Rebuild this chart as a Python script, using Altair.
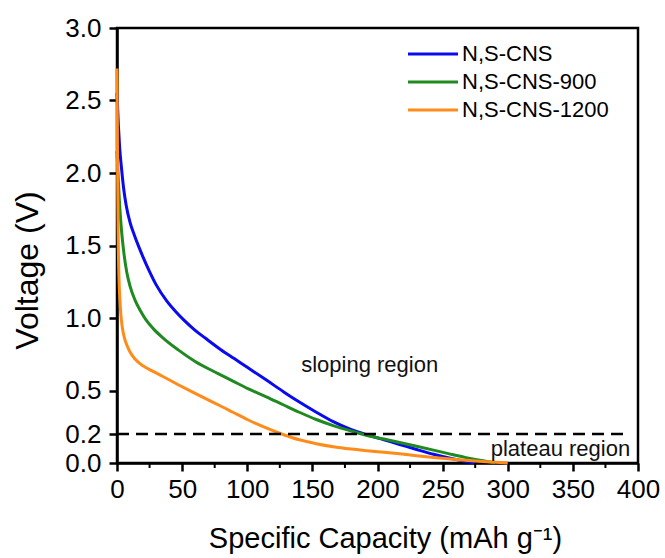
import altair as alt
import pandas as pd

# ---------------- data ----------------
series_names = ["N,S-CNS", "N,S-CNS-900", "N,S-CNS-1200"]
series_colors = ["#0A0AF0", "#1F8A1F", "#FF8C1A"]

cns_cap = [0, 1, 2, 3.5, 5, 7, 10, 13, 17, 20, 25, 30, 38, 45, 52, 60, 68, 80,
           90, 100, 115, 128, 140, 153, 166, 180, 192, 205, 217, 230, 243, 255,
           265, 275]
cns_v = [2.55, 2.34, 2.18, 2.03, 1.90, 1.78, 1.66, 1.58, 1.485, 1.42, 1.32, 1.23,
         1.12, 1.045, 0.98, 0.915, 0.86, 0.78, 0.72, 0.66, 0.57, 0.49, 0.42,
         0.35, 0.285, 0.23, 0.195, 0.16, 0.128, 0.093, 0.06, 0.034, 0.016, 0.0]

cns900_cap = [0, 1, 2, 3.5, 5, 7.4, 10, 14, 18, 22, 28, 35, 47, 60, 78, 89, 100,
              115, 128, 140, 153, 166, 180, 192, 205, 217, 230, 243, 256, 268,
              281, 290]
cns900_v = [2.15, 1.95, 1.78, 1.60, 1.47, 1.32, 1.22, 1.12, 1.05, 0.99, 0.925,
            0.865, 0.78, 0.70, 0.615, 0.565, 0.515, 0.455, 0.40, 0.35, 0.30,
            0.258, 0.22, 0.19, 0.165, 0.142, 0.116, 0.089, 0.061, 0.037, 0.016,
            0.0]

cns1200_cap = [0, 0.3, 0.6, 1, 1.5, 2.2, 3, 4, 5.5, 7.7, 10, 14, 20, 27, 34.5, 47,
               60, 70, 78, 89, 100, 115, 128, 140, 153, 166, 180, 192, 205, 217,
               230, 243, 256, 270, 285, 300]
cns1200_v = [2.72, 2.25, 1.85, 1.50, 1.28, 1.13, 1.02, 0.94, 0.87, 0.81, 0.765,
             0.715, 0.67, 0.635, 0.60, 0.54, 0.48, 0.435, 0.40, 0.35, 0.30, 0.24,
             0.195, 0.16, 0.133, 0.112, 0.096, 0.085, 0.074, 0.063, 0.05, 0.038,
             0.027, 0.017, 0.008, 0.0]

x_ticks = [0, 50, 100, 150, 200, 250, 300, 350, 400]
x_minor_ticks = [25, 75, 125, 175, 225, 275, 325, 375]
y_ticks = [0.0, 0.2, 0.5, 1.0, 1.5, 2.0, 2.5, 3.0]

plateau_level = [0.2]
dash_start = [0]
dash_end = [392]

notes_center = ["sloping region"]
notes_center_x = [194]
notes_center_y = [0.676]
notes_right = ["plateau region"]
notes_right_x = [394]
notes_right_y = [0.097]

# ---------------- tables ----------------
rows = []
for name, caps, vs in zip(series_names,
                          [cns_cap, cns900_cap, cns1200_cap],
                          [cns_v, cns900_v, cns1200_v]):
    for i, (c, v) in enumerate(zip(caps, vs)):
        rows.append({"series": name, "cap": c, "v": v, "idx": i})
df = pd.DataFrame(rows)

df_dash = pd.DataFrame({"cap": dash_start, "cap2": dash_end, "v": plateau_level})
df_minor = pd.DataFrame({"cap": x_minor_ticks})
df_c = pd.DataFrame({"t": notes_center, "cap": notes_center_x, "v": notes_center_y})
df_r = pd.DataFrame({"t": notes_right, "cap": notes_right_x, "v": notes_right_y})

W, H = 521, 435
FONT = "Liberation Sans"

x_scale = alt.Scale(domain=[0, 400], nice=False, zero=False)
y_scale = alt.Scale(domain=[0, 3], nice=False, zero=False)

x_axis = alt.Axis(values=x_ticks, format="d", labelFlush=False,
                  labelOverlap=False,
                  title="Specific Capacity (mAh g\u207b\u00b9)",
                  labelFontSize=26, labelPadding=5,
                  titleFontSize=29, titleX=268, titleY=84,
                  titleAlign="center", titleBaseline="alphabetic")
y_axis = alt.Axis(values=y_ticks, format=".1f", labelFlush=False,
                  labelOverlap=False, title="Voltage (V)",
                  labelFontSize=26, labelPadding=8,
                  titleFontSize=32, titleX=-90, titleY=242,
                  titleAngle=270, titleAlign="center", titleBaseline="middle")

X = alt.X("cap:Q", scale=x_scale, axis=x_axis)
Y = alt.Y("v:Q", scale=y_scale, axis=y_axis)

lines = alt.Chart(df).mark_line(strokeWidth=3, interpolate="monotone").encode(
    x=X, y=Y,
    color=alt.Color("series:N",
                    scale=alt.Scale(domain=series_names, range=series_colors),
                    legend=alt.Legend(title=None, orient="none",
                                      legendX=302, legendY=12,
                                      symbolType="M-2,0H2", symbolSize=625,
                                      symbolStrokeWidth=3,
                                      labelFontSize=22, labelFont=FONT,
                                      labelColor="black", labelOffset=15,
                                      rowPadding=3)),
    order=alt.Order("idx:Q"),
)

dash = alt.Chart(df_dash).mark_rule(color="black", strokeWidth=2.5,
                                    strokeDash=[12, 7]).encode(
    x=X, x2="cap2:Q", y=Y,
)

minor = alt.Chart(df_minor).mark_rule(color="black", strokeWidth=2).encode(
    x=X,
    y=alt.value(H),
    y2=alt.value(H + 5),
)

txt_c = alt.Chart(df_c).mark_text(fontSize=22, font=FONT, color="#111111",
                                  align="center", baseline="middle").encode(
    x=X, y=Y, text="t:N",
)

txt_r = alt.Chart(df_r).mark_text(fontSize=22, font=FONT, color="#111111",
                                  align="right", baseline="middle").encode(
    x=X, y=Y, text="t:N",
)

chart = alt.layer(lines, dash, minor, txt_c, txt_r).properties(
    width=W, height=H,
    autosize=alt.AutoSizeParams(type="none"),
    padding={"left": 117, "top": 28, "right": 27, "bottom": 95},
).configure_view(
    stroke="black", strokeWidth=2.5
).configure_axis(
    domainColor="black", domainWidth=2.5, tickColor="black", tickWidth=2.5,
    tickSize=8, labelColor="black", titleColor="black", grid=False,
    labelFont=FONT, titleFont=FONT, titleFontWeight="normal",
)

chart.save("out.html", embed_options={"renderer": "svg", "actions": False})
